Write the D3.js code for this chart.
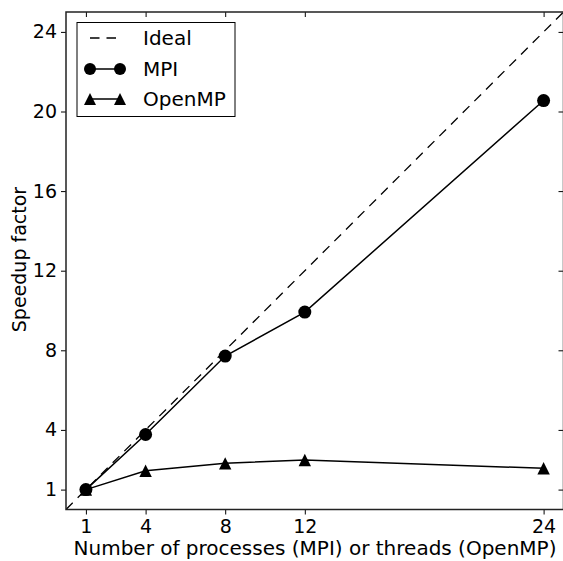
<!DOCTYPE html>
<html>
<head>
<meta charset="utf-8">
<script src="https://cdn.jsdelivr.net/npm/d3@7"></script>
<style>
  body { margin: 0; background: #fff; }
  text { font-family: "DejaVu Sans", sans-serif; }
</style>
</head>
<body>
<div id="container"></div>
<script>
/* DATA */
const procs = [1, 4, 8, 12, 24];
const mpiSpeedup = [1, 3.77, 7.71, 9.92, 20.55];
const ompSpeedup = [1, 1.95, 2.32, 2.49, 2.07];
const idealLine = [0, 25];
const xTicks = [1, 4, 8, 12, 24];
const yTicks = [1, 4, 8, 12, 16, 20, 24];

/* CONSTANTS */
const width = 563;
const height = 561;
const plotLeft = 66, plotRight = 563.5, plotTop = 12, plotBottom = 509.5;
const dash = "9.5,7";

const xScale = d3.scaleLinear().domain([0, 25]).range([plotLeft, plotRight]);
const yScale = d3.scaleLinear().domain([0, 25]).range([plotBottom, plotTop]);

const svg = d3.select("#container")
  .append("svg")
  .attr("width", width)
  .attr("height", height);

svg.append("defs").append("clipPath")
  .attr("id", "plot-clip")
  .append("rect")
  .attr("x", plotLeft).attr("y", plotTop)
  .attr("width", plotRight - plotLeft).attr("height", plotBottom - plotTop);

const plot = svg.append("g").attr("clip-path", "url(#plot-clip)");

const line = d3.line()
  .x(d => xScale(d[0]))
  .y(d => yScale(d[1]));

// ideal
plot.append("path")
  .datum(idealLine.map(v => [v, v]))
  .attr("d", line)
  .attr("fill", "none")
  .attr("stroke", "black")
  .attr("stroke-width", 1.3)
  .attr("stroke-dasharray", dash);

// MPI
plot.append("path")
  .datum(procs.map((p, i) => [p, mpiSpeedup[i]]))
  .attr("d", line)
  .attr("fill", "none")
  .attr("stroke", "black")
  .attr("stroke-width", 1.5);

plot.selectAll(".mpi")
  .data(procs.map((p, i) => [p, mpiSpeedup[i]]))
  .join("circle")
  .attr("class", "mpi")
  .attr("cx", d => xScale(d[0]))
  .attr("cy", d => yScale(d[1]))
  .attr("r", 6.5)
  .attr("fill", "black");

// OpenMP
plot.append("path")
  .datum(procs.map((p, i) => [p, ompSpeedup[i]]))
  .attr("d", line)
  .attr("fill", "none")
  .attr("stroke", "black")
  .attr("stroke-width", 1.5);

const tri = s => `M0,${-s}L${s},${s}L${-s},${s}Z`;

plot.selectAll(".omp")
  .data(procs.map((p, i) => [p, ompSpeedup[i]]))
  .join("path")
  .attr("class", "omp")
  .attr("transform", d => `translate(${xScale(d[0])},${yScale(d[1])})`)
  .attr("d", tri(6.2))
  .attr("fill", "black");

/* AXES */
svg.append("g")
  .attr("transform", `translate(0,${plotBottom})`)
  .call(d3.axisBottom(xScale).tickValues(xTicks).tickSize(5).tickPadding(5));

svg.append("g")
  .attr("transform", `translate(${plotLeft},0)`)
  .call(d3.axisLeft(yScale).tickValues(yTicks).tickSize(5).tickPadding(4));

// inner ticks on top and right
svg.append("g")
  .attr("transform", `translate(0,${plotTop})`)
  .call(d3.axisBottom(xScale).tickValues(xTicks).tickSize(5).tickFormat(""));
svg.append("g")
  .attr("transform", `translate(${plotRight},0)`)
  .call(d3.axisLeft(yScale).tickValues(yTicks).tickSize(5).tickFormat(""));

svg.selectAll(".domain").remove();
svg.selectAll(".tick line").attr("stroke", "black").attr("stroke-width", 1);
svg.selectAll(".tick text")
  .style("font-size", "19px")
  .style("font-family", "DejaVu Sans, sans-serif")
  .attr("fill", "black");

// frame
svg.append("rect")
  .attr("x", plotLeft).attr("y", plotTop)
  .attr("width", plotRight - plotLeft).attr("height", plotBottom - plotTop)
  .attr("fill", "none")
  .attr("stroke", "#222")
  .attr("stroke-width", 1.5);

// axis labels
svg.append("text")
  .attr("x", 315)
  .attr("y", 555)
  .attr("text-anchor", "middle")
  .style("font-size", "20px")
  .text("Number of processes (MPI) or threads (OpenMP)");

svg.append("text")
  .attr("transform", `translate(26,259.5) rotate(-90)`)
  .attr("text-anchor", "middle")
  .style("font-size", "19px")
  .text("Speedup factor");

/* LEGEND */
const legend = svg.append("g");
legend.append("rect")
  .attr("x", 77).attr("y", 22.5)
  .attr("width", 158).attr("height", 94)
  .attr("fill", "white")
  .attr("stroke", "black")
  .attr("stroke-width", 1);

const entries = ["Ideal", "MPI", "OpenMP"];
const rows = [38, 69, 99];
entries.forEach((name, i) => {
  const y = rows[i];
  legend.append("line")
    .attr("x1", 90).attr("x2", 120)
    .attr("y1", y).attr("y2", y)
    .attr("stroke", "black")
    .attr("stroke-width", i === 0 ? 1.3 : 1.5)
    .attr("stroke-dasharray", i === 0 ? dash : null);
  if (i === 1) {
    [90, 120].forEach(x => legend.append("circle")
      .attr("cx", x).attr("cy", y).attr("r", 6).attr("fill", "black"));
  }
  if (i === 2) {
    [90, 120].forEach(x => legend.append("path")
      .attr("transform", `translate(${x},${y})`)
      .attr("d", tri(6)).attr("fill", "black"));
  }
  legend.append("text")
    .attr("x", 143).attr("y", y)
    .attr("dy", "0.36em")
    .style("font-size", "20px")
    .text(name);
});
</script>
</body>
</html>
